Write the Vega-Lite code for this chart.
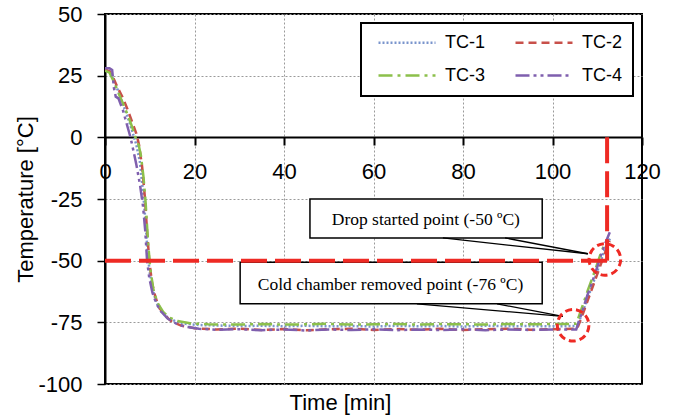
{
  "$schema": "https://vega.github.io/schema/vega-lite/v6.json",
  "width": 537,
  "height": 370,
  "autosize": {"type": "none"},
  "padding": {"left": 105, "top": 14, "right": 38, "bottom": 34},
  "background": "white",
  "config": {
    "font": "Liberation Sans",
    "view": {"stroke": "black", "strokeWidth": 2},
    "legend": {
      "orient": "none",
      "legendX": 256,
      "legendY": 9,
      "columns": 2,
      "columnPadding": 24,
      "rowPadding": 14,
      "padding": 11,
      "fillColor": "white",
      "strokeColor": "black",
      "strokeWidth": 2,
      "symbolType": "stroke",
      "symbolSize": 3249,
      "symbolOffset": 5,
      "symbolStrokeWidth": 2.5,
      "labelFontSize": 18,
      "labelColor": "black",
      "labelOffset": 8,
      "clipHeight": 17,
      "title": null
    }
  },
  "datasets": {
    "series": [
      {"s":"TC-1","t":0,"v":27.5},{"s":"TC-1","t":1,"v":27},{"s":"TC-1","t":2,"v":23},{"s":"TC-1","t":3,"v":18.5},{"s":"TC-1","t":4,"v":13.5},{"s":"TC-1","t":5,"v":8.5},{"s":"TC-1","t":6,"v":3},{"s":"TC-1","t":7,"v":-3},{"s":"TC-1","t":7.8,"v":-10},{"s":"TC-1","t":8.5,"v":-22},{"s":"TC-1","t":9,"v":-33},{"s":"TC-1","t":9.5,"v":-46},{"s":"TC-1","t":10,"v":-55},{"s":"TC-1","t":10.7,"v":-62},{"s":"TC-1","t":11.5,"v":-67},{"s":"TC-1","t":12.5,"v":-70.5},{"s":"TC-1","t":14,"v":-73},{"s":"TC-1","t":16,"v":-74.8},{"s":"TC-1","t":18,"v":-75.6},{"s":"TC-1","t":21,"v":-76.1},{"s":"TC-1","t":25,"v":-76.3},{"s":"TC-1","t":30,"v":-76.5},{"s":"TC-1","t":35,"v":-76.4},{"s":"TC-1","t":40,"v":-76.6},{"s":"TC-1","t":45,"v":-76.4},{"s":"TC-1","t":50,"v":-76.6},{"s":"TC-1","t":55,"v":-76.5},{"s":"TC-1","t":60,"v":-76.7},{"s":"TC-1","t":65,"v":-76.4},{"s":"TC-1","t":70,"v":-76.6},{"s":"TC-1","t":75,"v":-76.5},{"s":"TC-1","t":80,"v":-76.7},{"s":"TC-1","t":85,"v":-76.4},{"s":"TC-1","t":90,"v":-76.6},{"s":"TC-1","t":95,"v":-76.5},{"s":"TC-1","t":100,"v":-76.6},{"s":"TC-1","t":105.5,"v":-76.5},{"s":"TC-1","t":106.5,"v":-72},{"s":"TC-1","t":108,"v":-64.5},{"s":"TC-1","t":109.5,"v":-57},{"s":"TC-1","t":111,"v":-49},{"s":"TC-1","t":112,"v":-44},{"s":"TC-1","t":113,"v":-40.5},
      {"s":"TC-2","t":0,"v":27.5},{"s":"TC-2","t":1,"v":26.8},{"s":"TC-2","t":2,"v":23.5},{"s":"TC-2","t":3,"v":19.5},{"s":"TC-2","t":4,"v":16},{"s":"TC-2","t":5,"v":11.5},{"s":"TC-2","t":6,"v":6.5},{"s":"TC-2","t":7,"v":1.5},{"s":"TC-2","t":7.6,"v":-3},{"s":"TC-2","t":8.3,"v":-12},{"s":"TC-2","t":8.9,"v":-24},{"s":"TC-2","t":9.4,"v":-38},{"s":"TC-2","t":9.9,"v":-50},{"s":"TC-2","t":10.5,"v":-59},{"s":"TC-2","t":11.3,"v":-65},{"s":"TC-2","t":12.3,"v":-69.5},{"s":"TC-2","t":13.5,"v":-72.5},{"s":"TC-2","t":15,"v":-74.8},{"s":"TC-2","t":17,"v":-76.3},{"s":"TC-2","t":20,"v":-77.4},{"s":"TC-2","t":25,"v":-77.9},{"s":"TC-2","t":30,"v":-77.6},{"s":"TC-2","t":35,"v":-78.1},{"s":"TC-2","t":40,"v":-77.7},{"s":"TC-2","t":45,"v":-78.2},{"s":"TC-2","t":50,"v":-77.8},{"s":"TC-2","t":55,"v":-77.6},{"s":"TC-2","t":60,"v":-78.1},{"s":"TC-2","t":65,"v":-77.7},{"s":"TC-2","t":70,"v":-78},{"s":"TC-2","t":75,"v":-77.6},{"s":"TC-2","t":80,"v":-78.1},{"s":"TC-2","t":85,"v":-77.8},{"s":"TC-2","t":90,"v":-77.6},{"s":"TC-2","t":95,"v":-78},{"s":"TC-2","t":100,"v":-77.8},{"s":"TC-2","t":105.5,"v":-77.6},{"s":"TC-2","t":106.5,"v":-73},{"s":"TC-2","t":108,"v":-65.5},{"s":"TC-2","t":109.5,"v":-58},{"s":"TC-2","t":111,"v":-50.5},{"s":"TC-2","t":112,"v":-45.5},{"s":"TC-2","t":112.8,"v":-42},
      {"s":"TC-3","t":0,"v":27},{"s":"TC-3","t":1,"v":26.2},{"s":"TC-3","t":2,"v":22.5},{"s":"TC-3","t":3,"v":18},{"s":"TC-3","t":4,"v":13.8},{"s":"TC-3","t":5,"v":9.5},{"s":"TC-3","t":6,"v":4.5},{"s":"TC-3","t":6.8,"v":0},{"s":"TC-3","t":7.5,"v":-3},{"s":"TC-3","t":8,"v":-7},{"s":"TC-3","t":8.6,"v":-16},{"s":"TC-3","t":9.1,"v":-27},{"s":"TC-3","t":9.6,"v":-42},{"s":"TC-3","t":10.1,"v":-53},{"s":"TC-3","t":10.8,"v":-61.5},{"s":"TC-3","t":11.7,"v":-67},{"s":"TC-3","t":13,"v":-70.8},{"s":"TC-3","t":14.5,"v":-73.2},{"s":"TC-3","t":16.5,"v":-74.6},{"s":"TC-3","t":19,"v":-75.4},{"s":"TC-3","t":23,"v":-75.8},{"s":"TC-3","t":30,"v":-75.9},{"s":"TC-3","t":35,"v":-75.7},{"s":"TC-3","t":40,"v":-75.9},{"s":"TC-3","t":45,"v":-75.8},{"s":"TC-3","t":50,"v":-75.6},{"s":"TC-3","t":55,"v":-75.9},{"s":"TC-3","t":60,"v":-75.8},{"s":"TC-3","t":65,"v":-75.7},{"s":"TC-3","t":70,"v":-75.9},{"s":"TC-3","t":75,"v":-75.7},{"s":"TC-3","t":80,"v":-75.8},{"s":"TC-3","t":85,"v":-75.9},{"s":"TC-3","t":90,"v":-75.7},{"s":"TC-3","t":95,"v":-75.8},{"s":"TC-3","t":100,"v":-75.7},{"s":"TC-3","t":105.3,"v":-75.6},{"s":"TC-3","t":106.3,"v":-70.5},{"s":"TC-3","t":107.8,"v":-62.5},{"s":"TC-3","t":109.3,"v":-55},{"s":"TC-3","t":110.8,"v":-47},{"s":"TC-3","t":111.8,"v":-42.5},
      {"s":"TC-4","t":0,"v":28},{"s":"TC-4","t":1,"v":28},{"s":"TC-4","t":1.6,"v":27.3},{"s":"TC-4","t":2,"v":20},{"s":"TC-4","t":2.4,"v":16.5},{"s":"TC-4","t":3,"v":15.8},{"s":"TC-4","t":4,"v":11},{"s":"TC-4","t":5,"v":4.5},{"s":"TC-4","t":5.7,"v":0},{"s":"TC-4","t":6.3,"v":-5},{"s":"TC-4","t":7,"v":-11},{"s":"TC-4","t":7.8,"v":-19},{"s":"TC-4","t":8.5,"v":-28},{"s":"TC-4","t":9,"v":-38},{"s":"TC-4","t":9.4,"v":-50},{"s":"TC-4","t":9.9,"v":-57},{"s":"TC-4","t":10.6,"v":-63},{"s":"TC-4","t":11.5,"v":-67.5},{"s":"TC-4","t":12.5,"v":-70.5},{"s":"TC-4","t":14,"v":-73.5},{"s":"TC-4","t":16,"v":-75.6},{"s":"TC-4","t":18,"v":-76.8},{"s":"TC-4","t":21,"v":-77.6},{"s":"TC-4","t":25,"v":-78},{"s":"TC-4","t":30,"v":-77.8},{"s":"TC-4","t":35,"v":-78.2},{"s":"TC-4","t":40,"v":-77.9},{"s":"TC-4","t":45,"v":-78.3},{"s":"TC-4","t":50,"v":-77.9},{"s":"TC-4","t":55,"v":-78.1},{"s":"TC-4","t":60,"v":-77.8},{"s":"TC-4","t":65,"v":-78.2},{"s":"TC-4","t":70,"v":-77.9},{"s":"TC-4","t":75,"v":-78.1},{"s":"TC-4","t":80,"v":-77.8},{"s":"TC-4","t":85,"v":-78.2},{"s":"TC-4","t":90,"v":-77.9},{"s":"TC-4","t":95,"v":-78.1},{"s":"TC-4","t":100,"v":-77.9},{"s":"TC-4","t":105.3,"v":-77.9},{"s":"TC-4","t":106.3,"v":-72.5},{"s":"TC-4","t":107.8,"v":-64},{"s":"TC-4","t":109.3,"v":-56.5},{"s":"TC-4","t":110.8,"v":-48},{"s":"TC-4","t":111.8,"v":-43},{"s":"TC-4","t":112.8,"v":-38.5}
    ],
    "boxes": [
      {"x":45.8,"x2":97.7,"y":-25,"y2":-40.8},
      {"x":30.2,"x2":97.7,"y":-50.6,"y2":-67.5}
    ],
    "notes": [
      {"x":71.7,"y":-33.4,"label":"Drop started point (-50 ºC)"},
      {"x":63.8,"y":-59.7,"label":"Cold chamber removed point (-76 ºC)"}
    ],
    "leaders": [
      {"x":75.5,"y":-40.8,"x2":107.9,"y2":-47.2},
      {"x":89.4,"y":-40.8,"x2":107.9,"y2":-47.2},
      {"x":69.7,"y":-67.5,"x2":102.3,"y2":-72.6},
      {"x":87.6,"y":-67.5,"x2":102.3,"y2":-72.6}
    ],
    "redlines": [
      {"x":0,"y":-50,"x2":112.2,"y2":-50},
      {"x":112.2,"y":0,"x2":112.2,"y2":-50}
    ],
    "circles": [
      {"x":104.6,"y":-76.2},
      {"x":111.7,"y":-49.5}
    ]
  },
  "layer": [
    {
      "data": {"name": "series"},
      "mark": {"type": "line", "strokeWidth": 2.5, "clip": true},
      "encoding": {
        "x": {"field": "t", "type": "quantitative",
          "scale": {"domain": [0, 120], "nice": false, "zero": false},
          "axis": {"values": [20, 40, 60, 80, 100], "grid": true, "gridColor": "#9a9a9a", "gridDash": [2, 2], "gridWidth": 1, "labels": false, "ticks": false, "domain": false, "title": null}},
        "y": {"field": "v", "type": "quantitative",
          "scale": {"domain": [-100, 50], "nice": false, "zero": false},
          "axis": {"values": [50, 25, 0, -25, -50, -75, -100], "grid": true, "gridColor": "#9a9a9a", "gridDash": [2, 2], "gridWidth": 1,
            "domainColor": "black", "domainWidth": 2, "tickColor": "black", "tickWidth": 1.5, "tickSize": 8,
            "labelFontSize": 22, "labelColor": "black", "labelPadding": 15, "labelFlush": false, "labelOverlap": false, "labelBound": false,
            "labelExpr": "datum.value < 0 ? '-' + abs(datum.value) : '' + datum.value",
            "title": "Temperature [°C]", "titleFontSize": 22, "titleFontWeight": "normal", "titleColor": "black",
            "titleX": -80, "titleY": 185, "titleAngle": -90, "titleBaseline": "middle", "titleAlign": "center"}},
        "color": {"field": "s", "type": "nominal",
          "scale": {"domain": ["TC-1", "TC-3", "TC-2", "TC-4"], "range": ["#7a95cc", "#8cc04b", "#c8504a", "#7f5fae"]}},
        "strokeDash": {"field": "s", "type": "nominal",
          "scale": {"domain": ["TC-1", "TC-3", "TC-2", "TC-4"], "range": [[2, 2], [14, 5, 3, 5], [8, 5], [14, 4, 3, 4, 3, 4]]}},
        "order": {"field": "t", "type": "quantitative"}
      }
    },
    {
      "data": {"name": "boxes"},
      "mark": {"type": "rect", "fill": "white", "stroke": "black", "strokeWidth": 1.5},
      "encoding": {
        "x": {"field": "x", "type": "quantitative", "axis": null},
        "x2": {"field": "x2"},
        "y": {"field": "y", "type": "quantitative", "axis": null},
        "y2": {"field": "y2"}
      }
    },
    {
      "data": {"name": "notes"},
      "mark": {"type": "text", "font": "Liberation Serif", "fontSize": 17.5, "color": "black", "align": "center", "baseline": "middle"},
      "encoding": {
        "x": {"field": "x", "type": "quantitative", "axis": null},
        "y": {"field": "y", "type": "quantitative", "axis": null},
        "text": {"field": "label"}
      }
    },
    {
      "data": {"name": "leaders"},
      "mark": {"type": "rule", "color": "black", "strokeWidth": 1.3},
      "encoding": {
        "x": {"field": "x", "type": "quantitative", "axis": null},
        "y": {"field": "y", "type": "quantitative", "axis": null},
        "x2": {"field": "x2"},
        "y2": {"field": "y2"}
      }
    },
    {
      "data": {"name": "redlines"},
      "mark": {"type": "rule", "color": "#ee2a24", "strokeWidth": 4, "strokeDash": [26, 8]},
      "encoding": {
        "x": {"field": "x", "type": "quantitative",
          "axis": {"orient": "bottom", "offset": -247, "values": [0, 20, 40, 60, 80, 100, 120], "grid": false,
            "domainColor": "black", "domainWidth": 2, "tickColor": "black", "tickWidth": 2, "tickSize": 8,
            "labelFontSize": 22, "labelColor": "black", "labelPadding": 16, "labelFlush": false, "labelOverlap": false, "labelBound": false,
            "title": "Time [min]", "titleFontSize": 22, "titleFontWeight": "normal", "titleColor": "black",
            "titleX": 235, "titleY": 272, "titleBaseline": "alphabetic", "titleAlign": "center", "titleAnchor": "start"}},
        "y": {"field": "y", "type": "quantitative", "axis": null},
        "x2": {"field": "x2"},
        "y2": {"field": "y2"}
      }
    },
    {
      "data": {"name": "circles"},
      "mark": {"type": "point", "shape": "circle", "filled": false, "size": 1000, "stroke": "#ee2a24", "strokeWidth": 3, "strokeDash": [7, 4], "opacity": 1},
      "encoding": {
        "x": {"field": "x", "type": "quantitative", "axis": null},
        "y": {"field": "y", "type": "quantitative", "axis": null}
      }
    }
  ],
  "resolve": {"axis": {"x": "independent", "y": "independent"}}
}
